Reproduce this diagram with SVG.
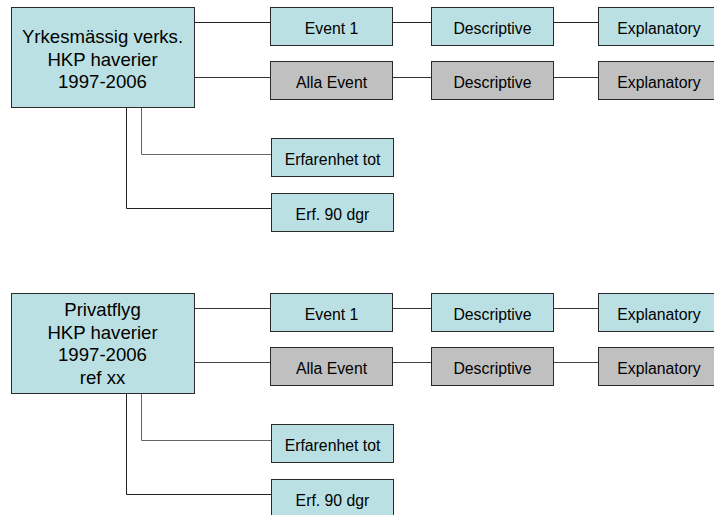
<svg xmlns="http://www.w3.org/2000/svg" width="714" height="515" viewBox="0 0 714 515">
<style>
.b{stroke:#2a2a2a;stroke-width:1}
.t{fill:#bbe0e3}
.g{fill:#c0c0c0}
text{font-family:"Liberation Sans",Arial,sans-serif;fill:#000;text-anchor:middle}
.m{font-size:18.6px}
.s{font-size:15.8px}
.c{fill:none;stroke-width:1}
</style>
<rect width="714" height="515" fill="#fff"/>
<g id="connectors">
<path class="c" stroke="#222" d="M194 22.5H270M393 22.5H431M553 22.5H598"/>
<path class="c" stroke="#333" d="M194 77.5H270M393 77.5H431M553 77.5H598"/>
<path class="c" stroke="#666" d="M141.5 107V154.5H271"/>
<path class="c" stroke="#222" d="M126.5 107V208.5H271"/>
<path class="c" stroke="#333" d="M194 308.5H270M393 308.5H431M553 308.5H598"/>
<path class="c" stroke="#444" d="M194 362.5H270M393 362.5H431M553 362.5H598"/>
<path class="c" stroke="#666" d="M141.5 394V440.5H271"/>
<path class="c" stroke="#222" d="M126.5 394V494.5H271"/>
</g>
<g id="main1"><rect class="b t" x="11.5" y="7.5" width="183" height="100"/>
<text class="m" x="102.5" y="43">Yrkesmässig verks.</text>
<text class="m" x="102.5" y="65.5">HKP haverier</text>
<text class="m" x="102.5" y="88">1997-2006</text></g>
<g id="ev1a"><rect class="b t" x="270.5" y="7.5" width="122" height="38"/><text class="s" x="331.5" y="34">Event 1</text></g>
<g id="desc1a"><rect class="b t" x="431.5" y="7.5" width="122" height="38"/><text class="s" x="492.5" y="34">Descriptive</text></g>
<g id="expl1a"><rect class="b t" x="598.5" y="7.5" width="122" height="38"/><text class="s" x="659" y="34">Explanatory</text></g>
<g id="alla1"><rect class="b g" x="270.5" y="61.5" width="122" height="38"/><text class="s" x="331.5" y="88">Alla Event</text></g>
<g id="desc1b"><rect class="b g" x="431.5" y="61.5" width="122" height="38"/><text class="s" x="492.5" y="88">Descriptive</text></g>
<g id="expl1b"><rect class="b g" x="598.5" y="61.5" width="122" height="38"/><text class="s" x="659" y="88">Explanatory</text></g>
<g id="erf1"><rect class="b t" x="271.5" y="138.5" width="122" height="38"/><text class="s" x="332.5" y="165">Erfarenhet tot</text></g>
<g id="erf90a"><rect class="b t" x="271.5" y="193.5" width="122" height="38"/><text class="s" x="332.5" y="220">Erf. 90 dgr</text></g>
<g id="main2"><rect class="b t" x="11.5" y="293.5" width="183" height="100"/>
<text class="m" x="102.5" y="316">Privatflyg</text>
<text class="m" x="102.5" y="338.5">HKP haverier</text>
<text class="m" x="102.5" y="361">1997-2006</text>
<text class="m" x="102.5" y="383.5">ref xx</text></g>
<g id="ev2a"><rect class="b t" x="270.5" y="293.5" width="122" height="38"/><text class="s" x="331.5" y="320">Event 1</text></g>
<g id="desc2a"><rect class="b t" x="431.5" y="293.5" width="122" height="38"/><text class="s" x="492.5" y="320">Descriptive</text></g>
<g id="expl2a"><rect class="b t" x="598.5" y="293.5" width="122" height="38"/><text class="s" x="659" y="320">Explanatory</text></g>
<g id="alla2"><rect class="b g" x="270.5" y="347.5" width="122" height="38"/><text class="s" x="331.5" y="374">Alla Event</text></g>
<g id="desc2b"><rect class="b g" x="431.5" y="347.5" width="122" height="38"/><text class="s" x="492.5" y="374">Descriptive</text></g>
<g id="expl2b"><rect class="b g" x="598.5" y="347.5" width="122" height="38"/><text class="s" x="659" y="374">Explanatory</text></g>
<g id="erf2"><rect class="b t" x="271.5" y="424.5" width="122" height="38"/><text class="s" x="332.5" y="451">Erfarenhet tot</text></g>
<g id="erf90b"><rect class="b t" x="271.5" y="479.5" width="122" height="38"/><text class="s" x="332.5" y="506">Erf. 90 dgr</text></g>
</svg>
